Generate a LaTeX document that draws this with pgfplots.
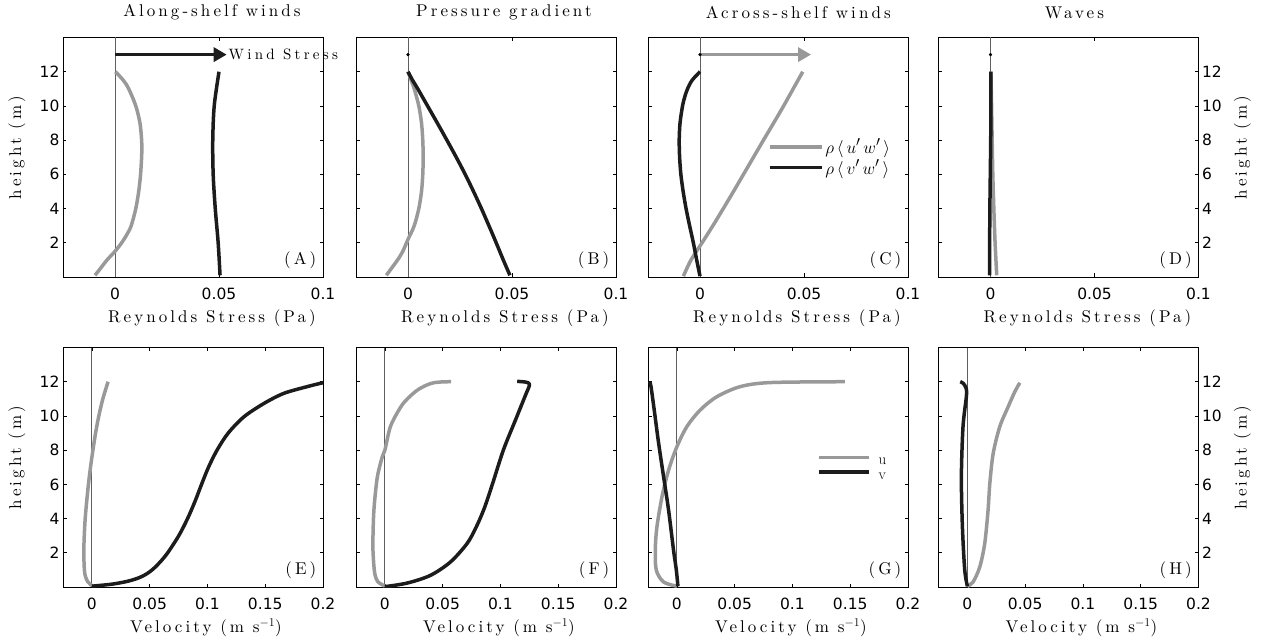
\documentclass[border=0pt]{standalone}
\usepackage{fontspec}
\usepackage{pgfplots}
\pgfplotsset{compat=1.18}
\usetikzlibrary{arrows.meta}
\newfontfamily\tickfont{DejaVu Sans}
\newfontfamily\spfont{lmroman10-regular.otf}[LetterSpace=18]
\newfontfamily\spfontb{lmroman10-regular.otf}[LetterSpace=22]
\newcommand\lab{\spfont\fontsize{17}{20}\selectfont}
\newcommand\smlab{\spfontb\fontsize{15}{18}\selectfont}
\definecolor{gr}{RGB}{153,153,153}
\definecolor{bk}{RGB}{28,28,28}
\definecolor{zl}{RGB}{95,95,95}

\pgfplotsset{
  base/.style={scale only axis, width=260pt, height=239.5pt,
    ymin=0, ymax=14, ytick={2,4,6,8,10,12},
    tick align=inside, major tick length=3.5pt,
    xtick pos=both, ytick pos=both, clip mode=individual,
    axis line style={line width=0.9pt},
    every tick/.style={black,line width=0.6pt},
    ticklabel style={font=\tickfont\fontsize{15.5}{18}\selectfont},
    /pgf/number format/assume math mode=true, scaled ticks=false,
    xticklabel style={yshift=-7pt},
    label style={font=\lab}, title style={font=\lab},
    ylabel style={at={(axis description cs:-0.177,0.54)}, anchor=center},
    title style={anchor=center, yshift=19pt},
  },
  top/.style={base, xmin=-0.025, xmax=0.1, xtick={0,0.05,0.1}, xticklabels={0,0.05,0.1},
    xlabel={Reynolds Stress (Pa)},
    xlabel style={at={(axis description cs:0.573,0)}, anchor=center, yshift=-41pt}},
  bot/.style={base, xmin=-0.025, xmax=0.2, xtick={0,0.05,0.1,0.15,0.2}, xticklabels={0,0.05,0.1,0.15,0.2},
    xlabel={Velocity (m s$^{-1}$)},
    xlabel style={at={(axis description cs:0.55,0)}, anchor=center, yshift=-41pt}},
  rightlab/.style={yticklabel pos=right, ytick pos=both,
    ylabel style={at={(axis description cs:1.169,0.54)}, anchor=center}},
  cg/.style={gr, line width=3.5pt, line join=round, smooth, tension=0.5},
  cb/.style={bk, line width=3.5pt, line join=round, smooth, tension=0.5},
  zero/.style={zl, line width=0.9pt, forget plot},
  dot/.style={only marks, mark=*, mark size=1.4pt, black, forget plot},
  windarrow/.style={line width=3.5pt, forget plot, -{Triangle[length=13pt,width=14pt]}},
}
\newcommand\plabel[1]{\node[anchor=south east, inner sep=0pt, font=\lab] at (rel axis cs:0.975,0.035) {(#1)};}

\begin{document}
\begin{tikzpicture}
% ---------------- (A) ----------------
\begin{axis}[top, at={(63pt,-277pt)}, anchor=south west, ylabel={height (m)},
  title={Along-shelf winds}, title style={at={(axis description cs:0.573,1)}}]
\addplot[zero] coordinates {(0,0) (0,14)};
\addplot[windarrow, bk] coordinates {(0,13) (0.0537,13)};
\addplot[cg] coordinates {(-0.0096,0.1) (-0.0070,0.5) (-0.0038,1.0) (0.0000,1.5) (0.0032,2.0) (0.0058,2.5) (0.0078,3.0) (0.0100,4.0) (0.0114,5.0) (0.0123,6.0) (0.0128,7.0) (0.0129,7.5) (0.0128,8.0) (0.0120,9.0) (0.0100,10.0) (0.0066,11.0) (0.0040,11.5) (0.0002,12.0)};
\addplot[cb] coordinates {(0.0505,0.1) (0.0496,2) (0.0482,4) (0.0472,6) (0.0470,8) (0.0477,10) (0.0500,12)};
\node[anchor=west, inner sep=0pt, font=\smlab] at (axis cs:0.0545,13) {Wind Stress};
\plabel{A}
\end{axis}
% ---------------- (B) ----------------
\begin{axis}[top, at={(356pt,-277pt)}, anchor=south west, yticklabels={},
  title={Pressure gradient}, title style={at={(axis description cs:0.569,1)}}]
\addplot[zero] coordinates {(0,0) (0,14)};
\addplot[dot] coordinates {(0,13)};
\addplot[cg] coordinates {(-0.0104,0.1) (-0.0080,0.5) (-0.0050,1.0) (-0.0025,1.5) (0.0000,2.2) (0.0030,3.0) (0.0052,4.0) (0.0065,5.0) (0.0071,6.0) (0.0073,7.0) (0.0071,8.0) (0.0065,9.0) (0.0052,10.0) (0.0030,11.0) (0.0015,11.5) (0.0000,12.0)};
\addplot[cb] coordinates {(0.0490,0.1) (0.0458,1) (0.0424,2) (0.0389,3) (0.0353,4) (0.0315,5) (0.0275,6) (0.0232,7) (0.0187,8) (0.0141,9) (0.0094,10) (0.0047,11) (0.0022,11.5) (0.0000,12)};
\plabel{B}
\end{axis}
% ---------------- (C) ----------------
\begin{axis}[top, at={(648pt,-277pt)}, anchor=south west, yticklabels={},
  title={Across-shelf winds}, title style={at={(axis description cs:0.578,1)}},
  legend style={draw=none, fill=none, at={(axis description cs:0.46,0.5)}, anchor=west,
    font=\fontsize{19}{21}\selectfont, row sep=1pt, inner sep=0pt, nodes={inner sep=2pt}},
  legend cell align=left,
  legend image code/.code={\draw[#1] (0pt,0pt) -- (52pt,0pt);}]
\addplot[zero] coordinates {(0,0) (0,14)};
\addplot[windarrow, gr] coordinates {(0,13) (0.0534,13)};
\addplot[dot] coordinates {(0,13)};
\addplot[cg] coordinates {(-0.0080,0.05) (-0.0043,1) (0.0010,2) (0.0062,3) (0.0112,4) (0.0161,5) (0.0209,6) (0.0257,7) (0.0305,8) (0.0354,9) (0.0402,10) (0.0448,11) (0.0494,12)};
\addplot[cb] coordinates {(0.0000,0.05) (-0.0016,1) (-0.0032,2) (-0.0050,3) (-0.0067,4) (-0.0081,5) (-0.0092,6) (-0.0098,7) (-0.0100,8) (-0.0096,9) (-0.0084,10) (-0.0074,10.5) (-0.0060,11) (-0.0038,11.5) (0.0000,12)};
\legend{$\rho\,\langle\, u'\,w'\,\rangle$, $\rho\,\langle\, v'\,w'\,\rangle$}
\plabel{C}
\end{axis}
% ---------------- (D) ----------------
\begin{axis}[top, rightlab, at={(938.5pt,-277pt)}, anchor=south west, ylabel={height (m)},
  title={Waves}, title style={at={(axis description cs:0.523,1)}}]
\addplot[zero] coordinates {(0,0) (0,14)};
\addplot[dot] coordinates {(0,13)};
\addplot[cg] coordinates {(0.0030,0.1) (0.0022,2) (0.0016,4) (0.0011,6) (0.0008,8) (0.0005,10) (0.0002,12)};
\addplot[cb] coordinates {(-0.0004,0.1) (-0.0004,2) (-0.0003,4) (-0.0001,6) (0.0001,8) (0.0002,10) (0.0002,12)};
\plabel{D}
\end{axis}
% ---------------- (E) ----------------
\begin{axis}[bot, at={(63pt,-587pt)}, anchor=south west, ylabel={height (m)}]
\addplot[zero] coordinates {(0,0) (0,14)};
\addplot[cg] coordinates {(0.0000,0.08) (-0.0035,0.3) (-0.0055,0.6) (-0.0065,1) (-0.0070,2) (-0.0066,3) (-0.0058,4) (-0.0045,5) (-0.0030,6) (-0.0012,7) (0.0009,8) (0.0032,9) (0.0060,10) (0.0095,11) (0.0140,12)};
\addplot[cb] coordinates {(0.0000,0.05) (0.0167,0.16) (0.0300,0.32) (0.0400,0.52) (0.0470,0.75) (0.0530,1.05) (0.0596,1.5) (0.0656,2.0) (0.0752,3.0) (0.0828,4.0) (0.0892,5.0) (0.0949,6.0) (0.1009,7.0) (0.1083,8.0) (0.1180,9.0) (0.1316,9.95) (0.1489,10.73) (0.1661,11.32) (0.1862,11.71) (0.2000,11.94) (0.2100,12.05)};
\plabel{E}
\end{axis}
% ---------------- (F) ----------------
\begin{axis}[bot, at={(356pt,-587pt)}, anchor=south west, yticklabels={}]
\addplot[zero] coordinates {(0,0) (0,14)};
\addplot[cg] coordinates {(0.0000,0.05) (-0.0060,0.3) (-0.0085,0.7) (-0.0097,1.4) (-0.0104,2.5) (-0.0095,4.5) (-0.0066,6.4) (-0.0023,7.6) (0.0000,8.0) (0.0049,9.4) (0.0135,10.5) (0.0195,11.0) (0.0279,11.5) (0.0360,11.8) (0.0423,11.94) (0.0500,11.99) (0.0573,12.0)};
\addplot[cb] coordinates {(0.0000,0.02) (0.0193,0.23) (0.0394,0.68) (0.0567,1.46) (0.0711,2.54) (0.0790,3.5) (0.0860,4.6) (0.0930,6.0) (0.1025,8.0) (0.1130,9.76) (0.1222,11.3) (0.1252,11.8) (0.1235,11.95) (0.1190,12.0) (0.1145,12.02)};
\plabel{F}
\end{axis}
% ---------------- (G) ----------------
\begin{axis}[bot, at={(648pt,-587pt)}, anchor=south west, yticklabels={},
  legend style={draw=none, fill=none, at={(axis description cs:0.65,0.5)}, anchor=west,
    font=\fontsize{15}{15}\selectfont, row sep=6pt, inner sep=0pt,
    nodes={inner sep=0pt, text height=7pt, text depth=0pt}},
  legend cell align=left,
  legend image code/.code={\draw[#1] (0pt,3.5pt) -- (50pt,3.5pt);}]
\addplot[zero] coordinates {(0,0) (0,14)};
\addplot[cg] coordinates {(0.0000,0.05) (-0.0115,0.29) (-0.0178,0.98) (-0.0187,2.15) (-0.0173,3.5) (-0.0129,5.27) (-0.0072,6.83) (0.0000,8.2) (0.0086,9.37) (0.0201,10.34) (0.0345,11.12) (0.0547,11.71) (0.0806,11.95) (0.1453,12.0)};
\addplot[cb] coordinates {(0.0009,0.04) (-0.0005,1) (-0.0029,2.15) (-0.0072,4.5) (-0.0115,6.44) (-0.0158,8.4) (-0.0196,10.34) (-0.0224,11.71) (-0.0236,12.0)};
\legend{\hspace*{8pt}u, \hspace*{8pt}v}
\plabel{G}
\end{axis}
% ---------------- (H) ----------------
\begin{axis}[bot, rightlab, at={(938.5pt,-587pt)}, anchor=south west, ylabel={height (m)}]
\addplot[zero] coordinates {(0,0) (0,14)};
\addplot[cg] coordinates {(0.0000,0.04) (0.0049,0.29) (0.0107,1.17) (0.0150,2.54) (0.0179,4.5) (0.0194,6.05) (0.0223,7.8) (0.0280,9.37) (0.0353,10.54) (0.0410,11.41) (0.0454,11.94)};
\addplot[cb] coordinates {(0.0000,0.04) (-0.0023,1) (-0.0043,3.5) (-0.0052,6.44) (-0.0038,9.37) (-0.0009,11.12) (-0.0010,11.6) (-0.0035,11.9) (-0.0062,12.0)};
\plabel{H}
\end{axis}
\pgfresetboundingbox
\path[use as bounding box] (0,0) rectangle (1262pt,-639pt);
\end{tikzpicture}
\end{document}
